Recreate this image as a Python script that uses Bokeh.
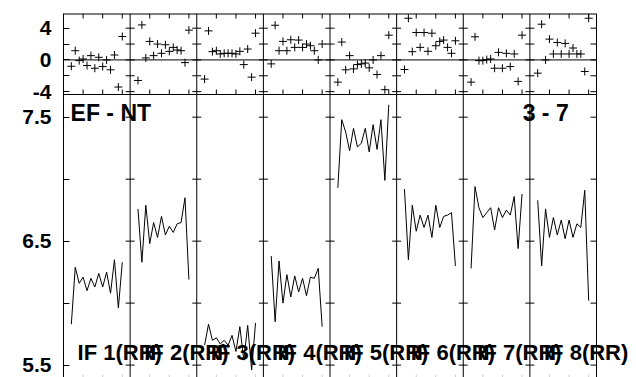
import numpy as np
from bokeh.plotting import figure
from bokeh.models import Range1d, FixedTicker, Span, Label
from bokeh.embed import file_html
from bokeh.resources import INLINE

# ---------------- data ----------------
panel_labels = ["IF 1(RR)", "IF 2(RR)", "IF 3(RR)", "IF 4(RR)",
                "IF 5(RR)", "IF 6(RR)", "IF 7(RR)", "IF 8(RR)"]
sample_x = [2, 3, 4, 5, 6, 7, 8, 9, 10, 11, 12, 13, 14, 15]
panel_span = 17

fit_p1 = [5.83, 6.29, 6.16, 6.21, 6.10, 6.20, 6.13, 6.24, 6.13, 6.25, 6.08, 6.35, 5.96, 6.33]
fit_p2 = [6.76, 6.33, 6.79, 6.48, 6.65, 6.53, 6.70, 6.55, 6.62, 6.57, 6.64, 6.65, 6.85, 6.19]
fit_p3 = [5.66, 5.83, 5.70, 5.72, 5.67, 5.70, 5.66, 5.74, 5.61, 5.81, 5.54, 5.82, 5.46, 5.84]
fit_p4 = [6.38, 5.85, 6.34, 6.00, 6.23, 6.05, 6.22, 6.09, 6.20, 6.06, 6.21, 6.20, 6.28, 5.81]
fit_p5 = [6.93, 7.48, 7.38, 7.23, 7.41, 7.26, 7.29, 7.41, 7.22, 7.44, 7.24, 7.48, 6.99, 7.60]
fit_p6 = [6.92, 6.35, 6.79, 6.58, 6.71, 6.61, 6.71, 6.53, 6.79, 6.61, 6.70, 6.71, 6.73, 6.30]
fit_p7 = [6.28, 6.94, 6.77, 6.69, 6.73, 6.77, 6.59, 6.77, 6.69, 6.75, 6.71, 6.86, 6.44, 6.88]
fit_p8 = [6.83, 6.30, 6.76, 6.53, 6.69, 6.55, 6.67, 6.52, 6.67, 6.53, 6.64, 6.61, 6.91, 6.02]

res_p1 = [-0.80, 1.16, -0.09, 0.12, -0.71, 0.54, -1.05, 0.33, -0.84, 0.00, -1.25, 0.62, -3.42, 2.95]
res_p2 = [-2.59, 4.41, 0.25, 2.33, 0.54, 2.00, 0.83, 1.91, 1.08, 1.58, 1.25, 1.16, -0.34, 3.75]
res_p3 = [-2.42, 3.66, 1.04, 1.16, 0.75, 0.83, 0.83, 0.83, 0.75, 1.08, -0.59, 1.37, -2.17, 3.37]
res_p4 = [-0.50, 4.37, 1.16, 2.33, 1.16, 2.54, 1.58, 2.50, 1.58, 2.00, 1.79, 1.16, 0.00, 2.00]
res_p5 = [-2.80, 2.25, -1.25, 0.54, -1.13, -0.59, -0.50, -0.40, -1.00, 0.00, -1.84, 0.54, -3.75, 3.12]
res_p6 = [-1.21, 5.25, 1.04, 3.45, 1.58, 3.45, 1.08, 3.37, 1.79, 2.33, 2.50, 1.58, 0.83, 2.41]
res_p7 = [-2.80, 2.91, -0.09, -0.09, 0.04, 0.12, -1.05, 0.95, -1.05, 0.83, -0.84, 0.75, -2.71, 3.12]
res_p8 = [-1.67, 4.50, 0.00, 2.62, 0.75, 2.20, 0.75, 2.08, 0.75, 1.50, 0.75, 0.75, -1.46, 5.25]

fits = [fit_p1, fit_p2, fit_p3, fit_p4, fit_p5, fit_p6, fit_p7, fit_p8]
residuals = [res_p1, res_p2, res_p3, res_p4, res_p5, res_p6, res_p7, res_p8]

top_ticks = [-4, -2, 0, 2, 4]
top_tick_labels = ["-4", "", "0", "", "4"]
bottom_ticks = [5.5, 6.0, 6.5, 7.0, 7.5]
bottom_tick_labels = ["5.5", "", "6.5", "", "7.5"]
x_minor = [5, 10, 15]
corner_left = "EF - NT"
corner_right = "3 - 7"

# ---------------- layout geometry ----------------
FONT = "Liberation Sans"
n_panels = len(fits)
x_max = n_panels * panel_span          # data extent of the panels
FRAME_TOP, SPLIT, FRAME_BOTTOM = 13, 94, 377   # pixel rows
LEFT, PANEL_W, RIGHT_END = 63, 533, 636
px_x = PANEL_W / x_max
x_end = (RIGHT_END - LEFT) / px_x

res_hi, res_lo = 5.85, -4.36           # residual panel limits
fit_lo, fit_hi = 5.40, 7.683           # fit panel limits
px_res = (SPLIT - FRAME_TOP) / (res_hi - res_lo)
px_fit = (FRAME_BOTTOM - SPLIT) / (fit_hi - fit_lo)
fit_frame_top = fit_lo + (FRAME_BOTTOM - FRAME_TOP) / px_fit
res_frame_bottom = res_hi - (FRAME_BOTTOM - FRAME_TOP) / px_res


def res_to_fit(v):
    pix = (res_hi - v) * px_res
    return round(fit_frame_top - pix / px_fit, 6)


boundaries = [k * panel_span for k in range(1, n_panels)]
xtick_pos = [k * panel_span + t for k in range(n_panels) for t in x_minor]

p = figure(x_range=Range1d(0, x_end), y_range=Range1d(fit_lo, fit_frame_top),
           frame_width=RIGHT_END - LEFT, frame_height=FRAME_BOTTOM - FRAME_TOP,
           min_border_left=LEFT, min_border_right=0,
           min_border_top=FRAME_TOP, min_border_bottom=0,
           output_backend="svg", toolbar_location=None, title=None,
           x_axis_location=None, y_axis_location="left")
p.extra_y_ranges = {"res": Range1d(res_frame_bottom, res_hi)}
p.grid.visible = False
p.outline_line_color = None
p.background_fill_color = "white"
p.border_fill_color = "white"

# single left axis carrying the tick labels of both panels
axis_ticks = list(bottom_ticks) + [res_to_fit(v) for v in top_ticks]
overrides = {t: s for t, s in zip(bottom_ticks, bottom_tick_labels)}
overrides.update({res_to_fit(v): s for v, s in zip(top_ticks, top_tick_labels)})
ax = p.yaxis[0]
ax.ticker = FixedTicker(ticks=axis_ticks)
ax.major_label_overrides = overrides
ax.major_tick_in = 6
ax.major_tick_out = 0
ax.minor_tick_in = 0
ax.minor_tick_out = 0
ax.axis_line_color = "black"
ax.major_tick_line_color = "black"
ax.major_label_text_font = FONT
ax.major_label_text_font_style = "bold"
ax.major_label_text_color = "black"
ax.major_label_text_font_size = "21px"
ax.major_label_standoff = 12

BLACK = dict(line_color="black", line_width=1)

# frame lines
for b in boundaries + [x_max]:
    p.add_layout(Span(location=b, dimension="height", **BLACK))
p.segment(x0=[0], x1=[x_max], y0=[res_hi], y1=[res_hi], y_range_name="res",
          line_color="black", line_width=2)
p.segment(x0=[0], x1=[x_max], y0=[res_lo], y1=[res_lo], y_range_name="res", **BLACK)
p.segment(x0=[0], x1=[x_max], y0=[0], y1=[0], y_range_name="res", **BLACK)

# x ticks on the residual panel (inward, 5 px)
tl = 5 / px_res
n = len(xtick_pos)
p.segment(x0=xtick_pos, x1=xtick_pos, y0=[res_hi] * n, y1=[res_hi - tl] * n,
          y_range_name="res", **BLACK)
p.segment(x0=xtick_pos, x1=xtick_pos, y0=[res_lo] * n, y1=[res_lo + tl] * n,
          y_range_name="res", **BLACK)

# faint x ticks at the foot of the fit panel
fl = 3 / px_fit
p.segment(x0=xtick_pos, x1=xtick_pos, y0=[fit_lo] * n, y1=[fit_lo + fl] * n,
          line_color="#cccccc", line_width=1)

# y ticks across panel boundaries and inward on the right edge
rl = 6 / px_x
for ticks, rng in ((top_ticks, "res"), (bottom_ticks, "default")):
    bx = [b for b in boundaries for _ in ticks]
    by = [t for _ in boundaries for t in ticks]
    p.scatter(x=bx, y=by, marker="dash", size=9, y_range_name=rng, **BLACK)
    m = len(ticks)
    p.segment(x0=[x_max - rl] * m, x1=[x_max] * m, y0=ticks, y1=ticks,
              y_range_name=rng, **BLACK)

# residual markers
for k, res in enumerate(residuals):
    xs = [k * panel_span + s for s in sample_x]
    p.scatter(x=xs, y=res, marker="cross", size=8, y_range_name="res", **BLACK)

# fitted curves
for k, fit in enumerate(fits):
    xs = [k * panel_span + s for s in sample_x]
    p.line(x=xs, y=fit, **BLACK)

lab = dict(text_font=FONT, text_font_style="bold", text_color="black",
           text_baseline="middle")
p.add_layout(Label(x=1.8, y=7.53, text=corner_left, text_align="left",
                   text_font_size="23px", **lab))
p.add_layout(Label(x=128.9, y=7.53, text=corner_right, text_align="right",
                   text_font_size="23px", **lab))
for k, name in enumerate(panel_labels):
    p.add_layout(Label(x=k * panel_span + 3.6, y=5.605, text=name, text_align="left",
                       text_font_size="22px", **lab))

open("out.html", "w").write(file_html(p, INLINE))
